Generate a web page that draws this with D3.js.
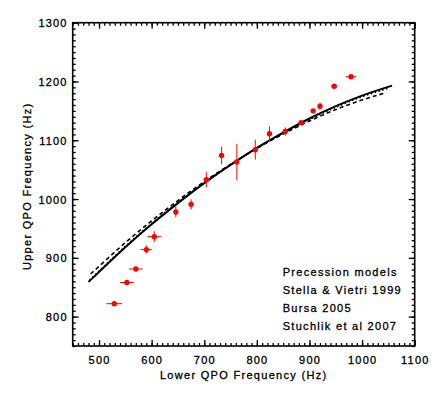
<!DOCTYPE html>
<html>
<head>
<meta charset="utf-8">
<script src="https://cdn.jsdelivr.net/npm/d3@7"></script>
<style>
  body { margin: 0; background: #fff; }
  text { font-family: "Liberation Sans", Arial, sans-serif; fill: #000; stroke: #000; stroke-width: 0.3px; }
</style>
</head>
<body>
<div id="chart"></div>
<script>
// observed QPO pairs (Hz)
var lowerQPO = [529, 553, 570, 590, 605, 646, 675, 704, 733, 762, 797, 824, 854, 884, 907, 920, 947, 979];
var upperQPO = [822, 858, 881, 914, 936, 978, 991, 1033, 1074, 1063, 1084, 1111, 1115, 1130, 1150, 1158, 1192, 1208];
var lowerErr = [15, 13, 13, 11, 13, 3, 3, 3, 3, 3, 3, 3, 3, 3, 3, 3, 5, 10];
var upperErr = [3, 3, 3, 7, 9, 9, 8.5, 12.7, 15, 31, 17, 12.7, 7, 4, 3, 6, 3, 3];

// model curves
var svLower = [480, 500, 550, 600, 650, 700, 750, 800, 850, 900, 950, 1000, 1057];
var svUpper = [859, 876, 918, 957, 993, 1027, 1058, 1087, 1113, 1137, 1158, 1176, 1193];
var bursaLower = [484, 500, 550, 600, 650, 700, 750, 800, 850, 900, 950, 1000, 1046];
var bursaUpper = [872.5, 885.5, 925.8, 963, 997.4, 1029.7, 1059, 1086.3, 1110.6, 1132.9, 1152.2, 1168.6, 1181];
var stuLower = [482, 500, 550, 600, 650, 700, 750, 800, 850, 900, 950, 1000, 1052];
var stuUpper = [862, 877.5, 919.5, 958.5, 994, 1027.5, 1058, 1086.5, 1112, 1135.5, 1156, 1174, 1189];

var xTicks = [500, 600, 700, 800, 900, 1000, 1100];
var yTicks = [800, 900, 1000, 1100, 1200, 1300];
var legendLines = ["Precession models", "Stella & Vietri 1999", "Bursa 2005", "Stuchlik et al 2007"];

var width = 436,
    height = 393,
    margin = {left: 72.7, top: 22.7, right: 21.3, bottom: 47};
var w = width - margin.left - margin.right,
    h = height - margin.top - margin.bottom;

var svg = d3.select("#chart")
      .append("svg")
      .attr("width", width)
      .attr("height", height);

var g = svg.append("g")
      .attr("transform", "translate(" + margin.left + "," + margin.top + ")");

var x = d3.scaleLinear().domain([450, 1100]).range([0, w]);
var y = d3.scaleLinear().domain([750, 1300]).range([h, 0]);

var minorX = d3.range(450, 1101, 10);
var minorY = d3.range(750, 1301, 10);

// ticks on all four sides, pointing inward
function tickAxis(axisFn, scale, major, minor) {
  var a = axisFn(scale).tickValues(minor).tickSize(3).tickFormat("");
  var b = axisFn(scale).tickValues(major).tickSize(6).tickFormat("");
  return [a, b];
}

var bottomAx = tickAxis(d3.axisTop, x, xTicks, minorX);
var topAx = tickAxis(d3.axisBottom, x, xTicks, minorX);
var leftAx = tickAxis(d3.axisRight, y, yTicks, minorY);
var rightAx = tickAxis(d3.axisLeft, y, yTicks, minorY);

[bottomAx, topAx, leftAx, rightAx].forEach(function(pair, i){
  pair.forEach(function(ax){
    var t = "translate(0,0)";
    if (i === 0) t = "translate(0," + h + ")";
    if (i === 3) t = "translate(" + w + ",0)";
    g.append("g")
      .attr("class", "axis")
      .attr("transform", t)
      .call(ax)
      .call(function(s){ s.select(".domain").remove(); })
      .selectAll("line")
      .attr("stroke", "#000")
      .attr("stroke-width", 1.3);
  });
});

g.append("rect")
  .attr("width", w)
  .attr("height", h)
  .attr("fill", "none")
  .attr("stroke", "#000")
  .attr("stroke-width", 1.6);

// tick labels
g.selectAll(".xlab")
  .data(xTicks)
  .enter().append("text")
  .attr("class", "xlab")
  .attr("x", function(d){ return x(d) + 0.6; })
  .attr("y", h + 18)
  .attr("text-anchor", "middle")
  .style("font-size", "11px")
  .style("letter-spacing", "1.2px")
  .text(function(d){ return d; });

g.selectAll(".ylab")
  .data(yTicks)
  .enter().append("text")
  .attr("class", "ylab")
  .attr("x", -5)
  .attr("y", function(d){ return y(d) + 4.5; })
  .attr("text-anchor", "end")
  .style("font-size", "11px")
  .style("letter-spacing", "1.2px")
  .text(function(d){ return d; });

svg.append("text")
  .attr("x", margin.left + w / 2)
  .attr("y", 379)
  .attr("text-anchor", "middle")
  .style("font-size", "11px")
  .style("letter-spacing", "1.3px")
  .text("Lower QPO Frequency (Hz)");

svg.append("text")
  .attr("transform", "translate(30.7," + (margin.top + h / 2 + 2) + ") rotate(-90)")
  .attr("text-anchor", "middle")
  .style("font-size", "11px")
  .style("letter-spacing", "1.3px")
  .text("Upper QPO Frequency (Hz)");

// model lines
function toPts(xs, ys) {
  return xs.map(function(d, i){ return [d, ys[i]]; });
}
var line = d3.line()
  .x(function(d){ return x(d[0]); })
  .y(function(d){ return y(d[1]); })
  .curve(d3.curveMonotoneX);

g.append("path")
  .attr("d", line(toPts(svLower, svUpper)))
  .attr("fill", "none")
  .attr("stroke", "#000")
  .attr("stroke-width", 2);

g.append("path")
  .attr("d", line(toPts(bursaLower, bursaUpper)))
  .attr("fill", "none")
  .attr("stroke", "#000")
  .attr("stroke-width", 1.6)
  .attr("stroke-dasharray", "4,3");

g.append("path")
  .attr("d", line(toPts(stuLower, stuUpper)))
  .attr("fill", "none")
  .attr("stroke", "#000")
  .attr("stroke-width", 1.6)
  .attr("stroke-dasharray", "1.5,2.5");

// data with error bars
var pts = lowerQPO.map(function(d, i){
  return {lo: d, up: upperQPO[i], dl: lowerErr[i], du: upperErr[i]};
});

var dots = g.selectAll(".pt")
  .data(pts)
  .enter().append("g")
  .attr("class", "pt");

dots.append("line")
  .attr("x1", function(d){ return x(d.lo - d.dl); })
  .attr("x2", function(d){ return x(d.lo + d.dl); })
  .attr("y1", function(d){ return y(d.up); })
  .attr("y2", function(d){ return y(d.up); })
  .attr("stroke", "#f00")
  .attr("stroke-width", 1);

dots.append("line")
  .attr("x1", function(d){ return x(d.lo); })
  .attr("x2", function(d){ return x(d.lo); })
  .attr("y1", function(d){ return y(d.up - d.du); })
  .attr("y2", function(d){ return y(d.up + d.du); })
  .attr("stroke", "#f00")
  .attr("stroke-width", 1);

dots.append("circle")
  .attr("cx", function(d){ return x(d.lo); })
  .attr("cy", function(d){ return y(d.up); })
  .attr("r", 2.7)
  .attr("fill", "#f00");

// legend text
svg.selectAll(".leg")
  .data(legendLines)
  .enter().append("text")
  .attr("class", "leg")
  .attr("x", 282.7)
  .attr("y", function(d, i){ return 275.7 + i * 18; })
  .style("font-size", "11px")
  .style("letter-spacing", "1.3px")
  .text(function(d){ return d; });
</script>
</body>
</html>
